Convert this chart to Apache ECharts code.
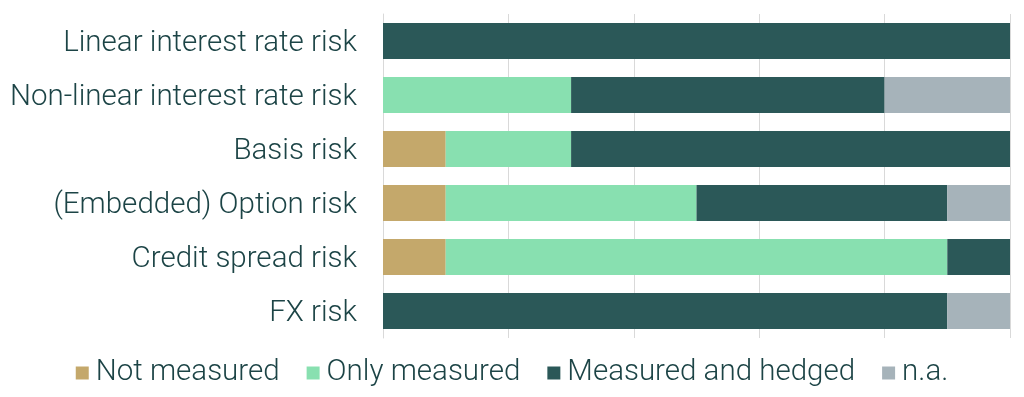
<!DOCTYPE html>
<html>
<head>
<meta charset="utf-8">
<script src="https://cdn.jsdelivr.net/npm/echarts@6/dist/echarts.min.js"></script>
<style>
  html, body { margin: 0; padding: 0; background: #fff; }
  #chart { width: 1024px; height: 397px; }
</style>
</head>
<body>
<div id="chart"></div>
<script>
var categories = ['Linear interest rate risk', 'Non-linear interest rate risk', 'Basis risk',
                  '(Embedded) Option risk', 'Credit spread risk', 'FX risk'];
var notMeasured = [0, 0, 10, 10, 10, 0];
var onlyMeasured = [0, 30, 20, 40, 80, 0];
var measuredHedged = [100, 50, 70, 40, 10, 90];
var notApplicable = [0, 20, 0, 10, 0, 10];
var seriesNames = ['Not measured', 'Only measured', 'Measured and hedged', 'n.a.'];
var colors = ['#C4A86B', '#88E0B0', '#2B5858', '#A6B3BA'];

var font = 'Roboto, sans-serif';
var textColor = '#1C4446';

var myChart = echarts.init(document.getElementById('chart'));
var allData = [notMeasured, onlyMeasured, measuredHedged, notApplicable];

var option = {
    animation: false,
    color: colors,
    grid: { left: 383, right: 14, top: 14, height: 324, containLabel: false },
    legend: {
        top: 353,
        left: 'center',
        itemWidth: 13,
        itemHeight: 13,
        itemGap: 27,
        icon: 'rect',
        textStyle: { fontFamily: font, fontWeight: 300, fontSize: 29.5, color: textColor, padding: [3, 0, 0, 2] },
        data: seriesNames
    },
    xAxis: {
        type: 'value',
        min: 0,
        max: 100,
        interval: 20,
        axisLabel: { show: false },
        axisLine: { show: false },
        axisTick: { show: false },
        splitLine: { show: true, lineStyle: { color: '#D9D9D9', width: 1 } }
    },
    yAxis: {
        type: 'category',
        inverse: true,
        data: categories,
        axisLine: { show: true, lineStyle: { color: '#D9D9D9' } },
        axisTick: { show: false },
        axisLabel: {
            margin: 26,
            formatter: '{v|{value}}',
            rich: {
                v: { fontFamily: font, fontWeight: 300, fontSize: 29.5, color: textColor, padding: [6, 0, 0, 0] }
            }
        }
    },
    series: seriesNames.map(function (name, i) {
        return {
            name: name,
            type: 'bar',
            stack: 'total',
            barCategoryGap: '33%',
            data: allData[i]
        };
    })
};
myChart.setOption(option);
</script>
</body>
</html>
